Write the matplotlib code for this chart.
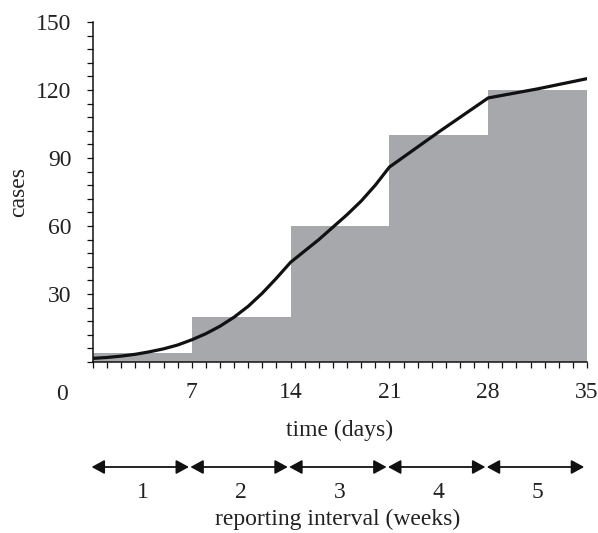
import numpy as np
import matplotlib.pyplot as plt

plt.rcParams['font.family'] = ['Liberation Serif', 'DejaVu Serif']

# weekly reported cumulative cases
week_starts = [0, 7, 14, 21, 28]
week_cases = [4, 20, 60, 100, 120]
week_labels = ['1', '2', '3', '4', '5']

# underlying cumulative curve
t = [0, 1, 2, 3, 4, 5, 6, 7, 8, 9, 10, 11, 12, 13, 14,
     15, 16, 17, 18, 19, 20, 21, 24.5, 28, 31.5, 35]
cases = [1.6, 2.0, 2.6, 3.4, 4.5, 5.8, 7.5, 9.8, 12.5, 15.8, 19.8, 24.6, 30.4, 37, 44,
         49, 54, 59.5, 65, 71, 78, 86, 101.5, 116.5, 120.5, 125]

textcol = '#222222'
fs = 17

fig = plt.figure(figsize=(5.98, 5.33), dpi=100)
ax = fig.add_axes([93/598, 1 - 362/533, 494/598, 340/533])

ax.bar(week_starts, week_cases, width=7, align='edge', color='#a6a8ab', linewidth=0, zorder=1)
ax.plot(t, cases, color='#111111', lw=2.3, zorder=3, solid_joinstyle='round')

ax.set_xlim(0, 35)
ax.set_ylim(0, 150)
ax.spines['top'].set_visible(False)
ax.spines['right'].set_visible(False)
for s in ['left', 'bottom']:
    ax.spines[s].set_linewidth(1.1)
    ax.spines[s].set_color('#111111')

ax.set_xticks([0, 7, 14, 21, 28, 35])
ax.set_xticklabels(['', '7', '14', '21', '28', '35'])
ax.set_xticks(np.arange(0, 36, 1), minor=True)
ax.set_yticks([30, 60, 90, 120, 150])
ax.set_yticks(np.arange(0, 151, 6), minor=True)
ax.tick_params(which='both', direction='out', length=4.3, width=0.9, color='#111111',
               labelsize=fs, labelcolor=textcol)
ax.tick_params(axis='x', which='major', pad=10)
ax.tick_params(axis='y', which='major', pad=11)

ax.text(62/598, 1 - 395/533, '0', transform=fig.transFigure, ha='center', va='center',
        fontsize=fs, color=textcol)
ax.set_ylabel('cases', fontsize=fs, color=textcol, labelpad=5)
fig.text(340/598, 1 - 430/533, 'time (days)', ha='center', va='center', fontsize=fs, color=textcol)

# reporting interval arrows
ya = 1 - 467/533
for i, s in enumerate(week_starts):
    ax.annotate('', xy=(s + 7 - 0.15, ya), xytext=(s - 0.15, ya),
                xycoords=('data', 'figure fraction'), textcoords=('data', 'figure fraction'),
                arrowprops=dict(arrowstyle='<|-|>,head_length=0.55,head_width=0.3',
                                mutation_scale=14, color='#111111', lw=1.3,
                                shrinkA=0.5, shrinkB=0.5), annotation_clip=False)
    ax.annotate(week_labels[i], xy=(s + 3.5, 1 - 492/533),
                xycoords=('data', 'figure fraction'), ha='center', va='center',
                fontsize=fs, color=textcol, annotation_clip=False)
fig.text(338/598, 1 - 519/533, 'reporting interval (weeks)', ha='center', va='center',
         fontsize=fs, color=textcol)

fig.savefig('out.png', dpi=100)
